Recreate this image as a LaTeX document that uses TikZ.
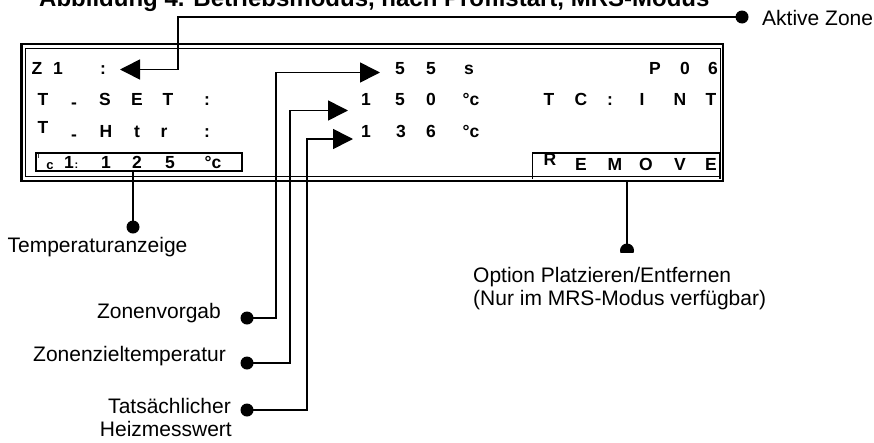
\documentclass[tikz,border=0pt]{standalone}
\usepackage{fontspec}
\setmainfont{Liberation Sans}
\usetikzlibrary{arrows.meta}
\begin{document}
\begin{tikzpicture}[x=1pt,y=-1pt,
  conn/.style={line width=1.6pt},
  arr/.style={conn,-{Triangle[length=20pt,width=20pt]}},
  lbl/.style={font=\fontsize{21}{23}\selectfont, inner sep=0pt},
  lcd/.style={font=\fontsize{17.5}{20}\selectfont\bfseries, inner sep=0pt, anchor=base},
  boxline/.style={line width=1.3pt}
]
\useasboundingbox (0,0) rectangle (874,442);

% title
\node[anchor=base west, inner sep=0pt, font=\fontsize{24}{28}\selectfont\bfseries] (title) at (39,6.5)
  {Abbildung 4. Betriebsmodus, nach Profilstart, MRS-Modus};

% LCD frame
\draw[line width=2.6pt] (21.5,44) rectangle (723,181);
\draw[line width=1.5pt] (25.5,48.5) rectangle (720.5,176.5);

% row 1
\foreach \x/\c [count=\i] in {37/Z,58/1,103/:,400/5,431/5,469/s,655/P,685/0,713/6}
  \node[lcd, name=ra\i] at (\x,74.5) {\c};
% row 2
\foreach \x/\c [count=\i] in {43/T,105/S,137/E,168/T,207/:,366/1,400/5,431/0,471/°c,549/T,581/C,610/:,642/I,680/N,711/T}
  \node[lcd, name=rb\i] at (\x,105.5) {\c};
\node[lcd] (rbdash) at (74,108.5) {-};
% row 3
\foreach \x/\c [count=\i] in {106/H,137/t,164/r,207/:,366/1,401/3,431/6,471/°c}
  \node[lcd, name=rc\i] at (\x,137) {\c};
\node[lcd] (rcT) at (43,133) {T};
\node[lcd] (rcdash) at (74,140) {-};

% temperature box
\draw[boxline] (36,153) rectangle (242,171);
\node[inner sep=0pt, anchor=base, font=\fontsize{8}{9}\selectfont] (tsT) at (38.5,158.5) {T};
\node[inner sep=0pt, anchor=base, font=\fontsize{13}{14}\selectfont\bfseries] (tsc) at (50,169.5) {c};
\foreach \x/\c [count=\i] in {69/1,106/1,137/2,170/5,213/°c}
  \node[lcd, name=rd\i] at (\x,168.5) {\c};
\node[inner sep=0pt, anchor=base, font=\fontsize{11}{12}\selectfont\bfseries] (tscol) at (76.5,168.5) {:};

% REMOVE box
\draw[boxline] (532.5,179) -- (532.5,153) -- (720,153) -- (720,179);
\node[lcd] (reR) at (550,165) {R};
\foreach \x/\c [count=\i] in {581/E,615/M,646/O,680/V,711/E}
  \node[lcd, name=re\i] at (\x,170) {\c};

% Aktive Zone
\coordinate (dAZ) at (742,17);
\coordinate (bZ) at (178,69.5);
\coordinate (tZ) at (120,69.5);
\draw[arr] (dAZ) -| (bZ) -- (tZ);
\fill (dAZ) circle (6.5pt);
\node[lbl, anchor=base west] (lAZ) at (762,25) {Aktive Zone};

% Temperaturanzeige
\coordinate (tb) at (133,171);
\coordinate (dT) at (133,227);
\draw[conn] (tb) -- (dT);
\fill (dT) circle (6.5pt);
\node[lbl, anchor=base] (lT) at (97.5,252) {Temperaturanzeige};

% Zonenvorgab
\coordinate (dZV) at (247,318);
\coordinate (bA) at (276,72.5);
\coordinate (tA) at (380,72.5);
\draw[arr] (dZV) -| (bA) -- (tA);
\fill (dZV) circle (6.5pt);
\node[lbl, anchor=base east] (lZV) at (221,318) {Zonenvorgab};

% Zonenzieltemperatur
\coordinate (dZZ) at (247,363);
\coordinate (bB) at (290,110.5);
\coordinate (tB) at (348,110.5);
\draw[arr] (dZZ) -| (bB) -- (tB);
\fill (dZZ) circle (6.5pt);
\node[lbl, anchor=base east] (lZZ) at (226,361.5) {Zonenzieltemperatur};

% Tatsaechlicher Heizmesswert
\coordinate (dH) at (247,410);
\coordinate (bC) at (307,139);
\coordinate (tC) at (353,139);
\draw[arr] (dH) -| (bC) -- (tC);
\fill (dH) circle (6.5pt);
\node[lbl, anchor=base east] (lH1) at (231,413) {Tatsächlicher};
\node[lbl, anchor=base east] (lH2) at (232,436) {Heizmesswert};

% Option Platzieren/Entfernen
\coordinate (rb) at (627,180);
\coordinate (dR) at (627,250.5);
\draw[conn] (rb) -- (dR);
\begin{scope}
  \clip (610,230) rectangle (645,252);
  \fill (dR) circle (7pt);
\end{scope}
\node[lbl, anchor=base west] (lO1) at (473,282) {Option Platzieren/Entfernen};
\node[lbl, anchor=base west] (lO2) at (473,305) {(Nur im MRS-Modus verfügbar)};
\end{tikzpicture}
\end{document}
